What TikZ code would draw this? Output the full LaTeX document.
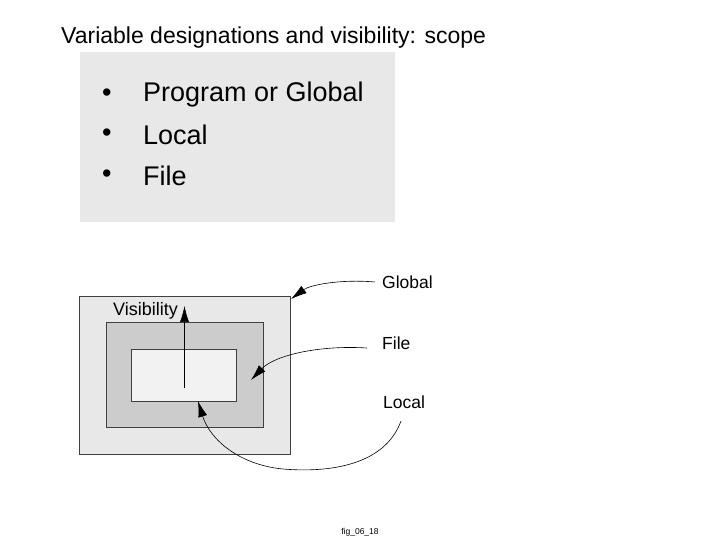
\documentclass[tikz,border=0pt]{standalone}
\usepackage{fontspec}
\setmainfont{Liberation Sans}
\usetikzlibrary{arrows.meta}
\begin{document}
\begin{tikzpicture}[x=1pt,y=-1pt,
  lbl/.style={anchor=west,font=\fontsize{17.5}{20}\selectfont,inner sep=0},
  bul/.style={anchor=west,font=\fontsize{27}{30}\selectfont,inner sep=0},
  arr/.style={-{Latex[length=16pt,width=9pt]},line width=0.6pt},
  box/.style={draw=black!75,line width=0.6pt}]
\useasboundingbox (0,0) rectangle (720,540);
\node[anchor=west,inner sep=0,font=\fontsize{23}{26}\selectfont] (title) at (61,38) {Variable designations and visibility: scope};
\fill[black!9] (80,52) rectangle (395,222);
\node[bul] (b1) at (102,95) {•};\node[bul] (t1) at (143,95) {Program or Global};
\node[bul] (b2) at (102,135) {•};\node[bul] (t2) at (143,135) {Local};
\node[bul] (b3) at (102,176) {•};\node[bul] (t3) at (143,176) {File};
\node[box,fill=black!9,minimum width=211,minimum height=158,inner sep=0] (outer) at (184.5,375) {};
\node[box,fill=black!20,minimum width=157,minimum height=105,inner sep=0] (mid) at (184.5,374.5) {};
\node[box,fill=black!5,minimum width=105,minimum height=52,inner sep=0] (inner) at (183.5,375) {};
\node[lbl,font=\fontsize{18}{20}\selectfont] (vis) at (113,311) {Visibility};
\coordinate (vs) at (184.5,388);
\coordinate (vt) at (184.5,306);
\draw[arr] (vs) -- (vt);
\node[lbl] (glob) at (382,282) {Global};
\node[lbl] (file) at (382,343) {File};
\node[lbl] (loc) at (383,402) {Local};
\coordinate (g0) at (375,282);
\coordinate (g1) at (291,299);
\draw[arr] (g0) .. controls (340,279) and (310,285) .. (g1);
\coordinate (f0) at (367,348);
\coordinate (f1) at (251,380);
\draw[arr] (f0) .. controls (320,345) and (275,355) .. (f1);
\coordinate (l0) at (401,421);
\coordinate (l1) at (198,401);
\draw[arr] (l0) .. controls (385,465) and (330,473) .. (283,469) .. controls (240,465) and (210,440) .. (l1);
\node[inner sep=0,font=\fontsize{8.5}{10}\selectfont] (fig) at (360,532) {fig\_06\_18};
\end{tikzpicture}
\end{document}
